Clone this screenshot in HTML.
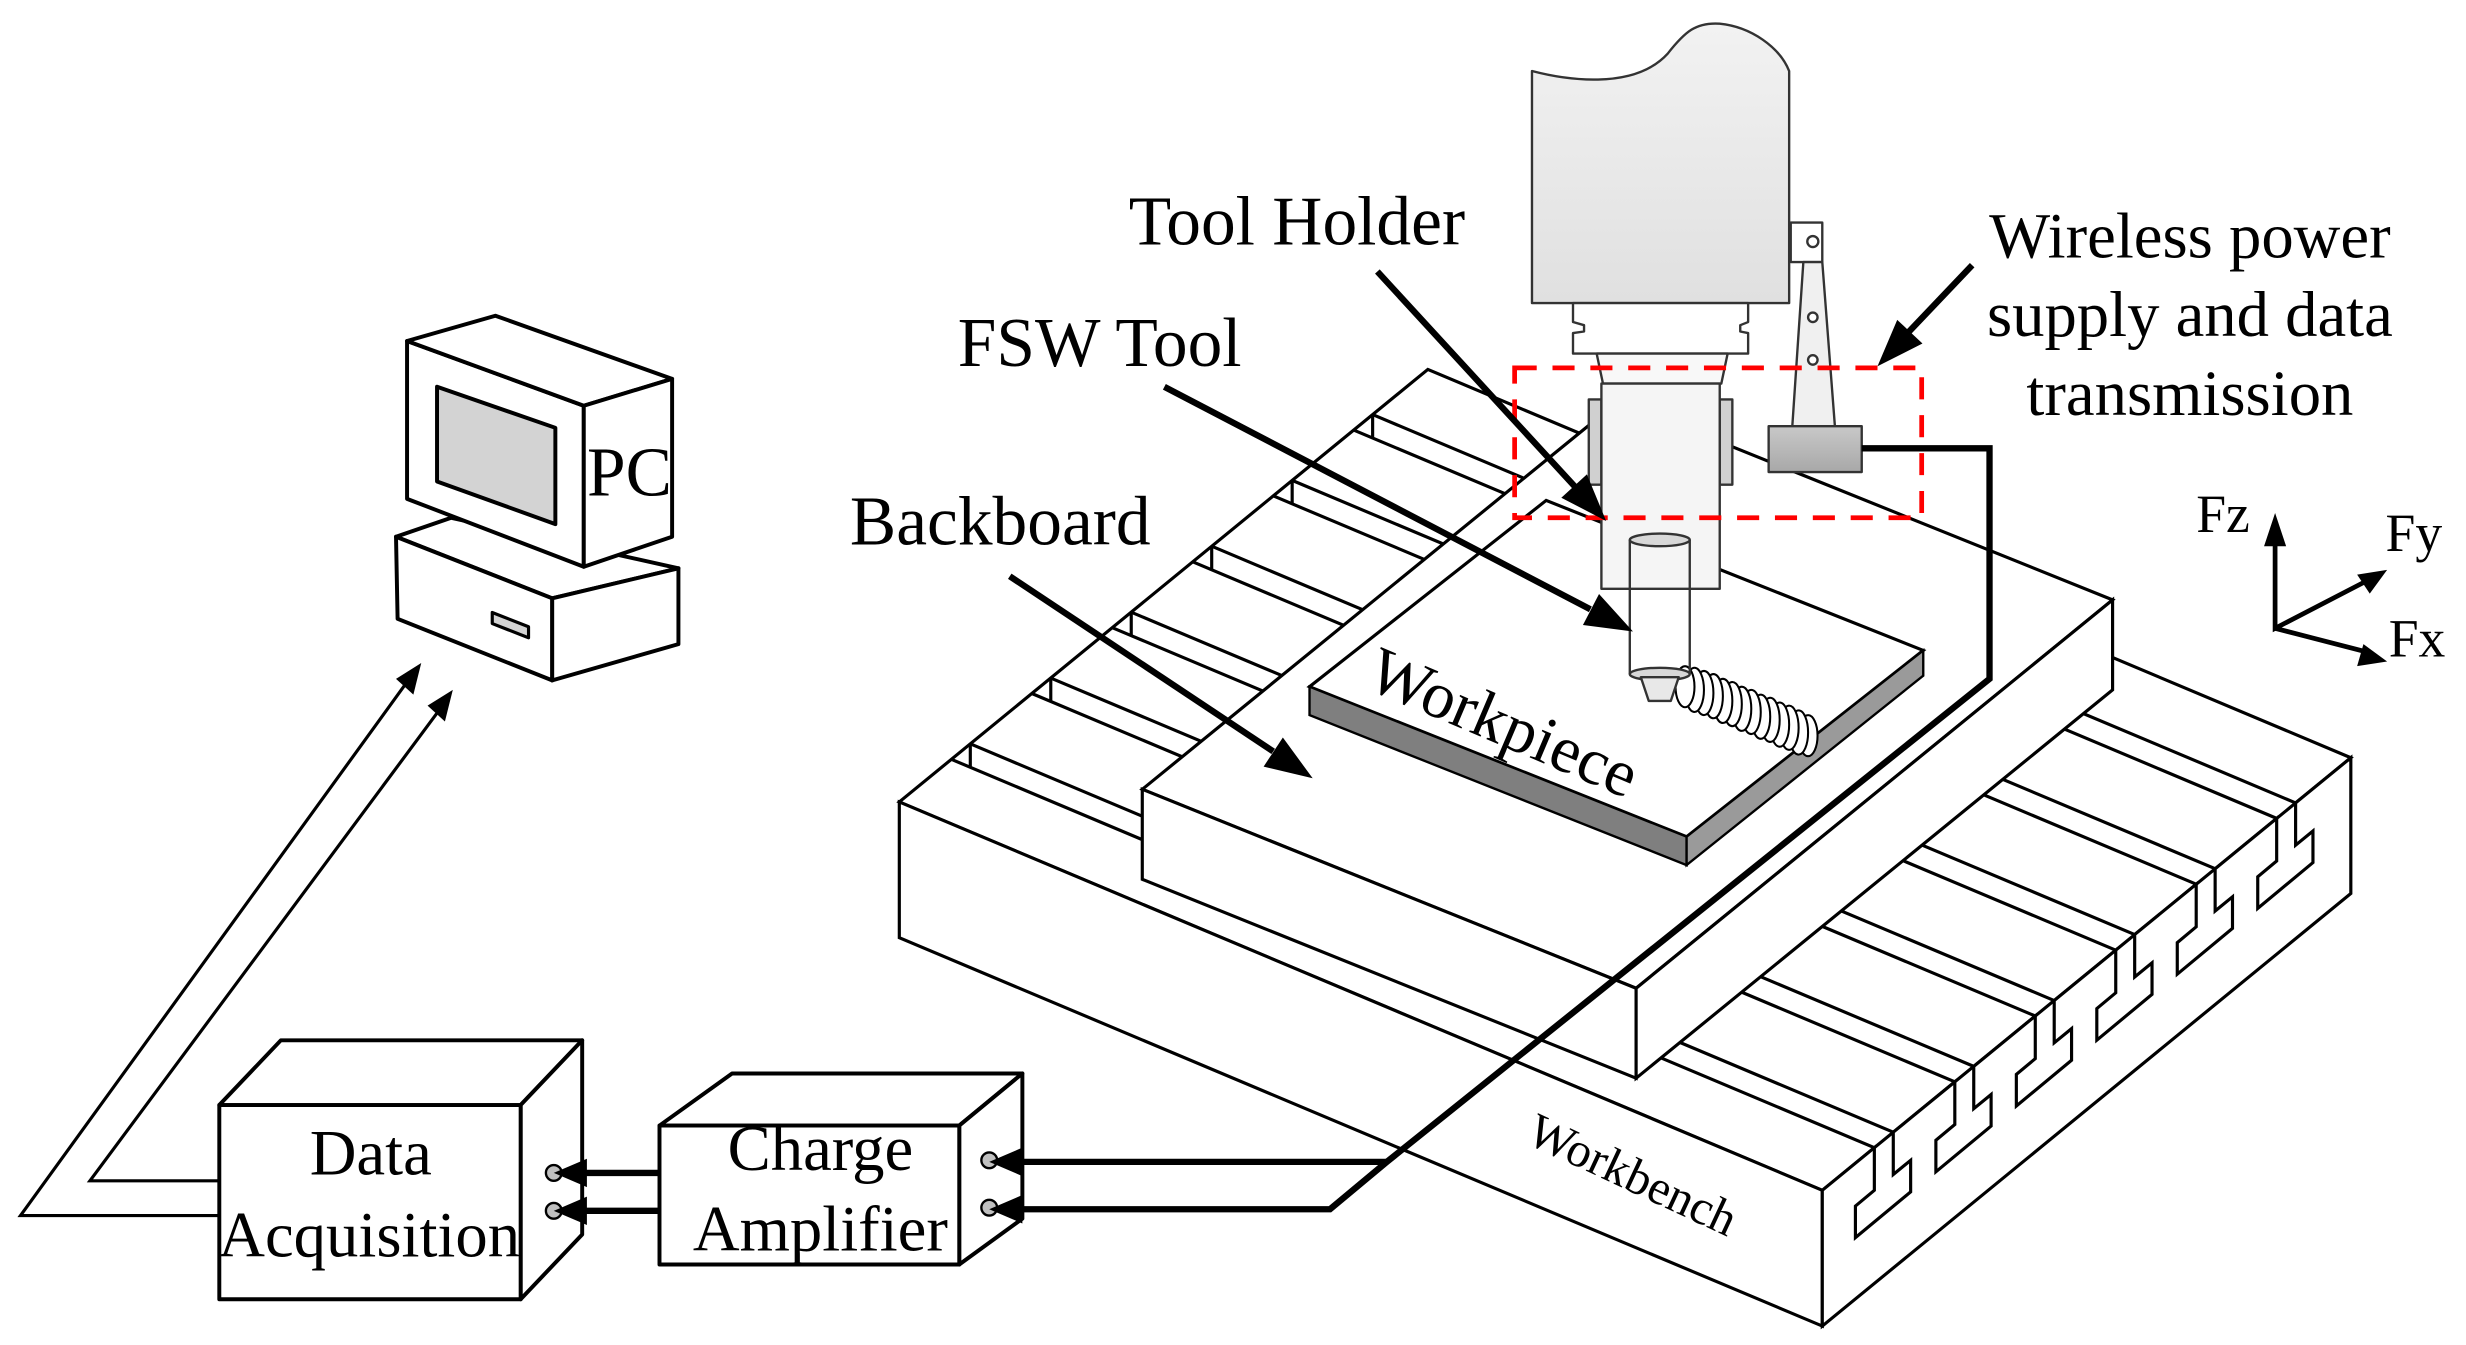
<!DOCTYPE html>
<html><head><meta charset="utf-8"><style>
html,body{margin:0;padding:0;background:#fff;}
svg{display:block;}
text{font-family:"Liberation Serif",serif;fill:#000;}
</style></head><body>
<svg width="2466" height="1345" viewBox="0 0 1563 852" preserveAspectRatio="none" xmlns="http://www.w3.org/2000/svg">
<defs>
<linearGradient id="gs" x1="0" y1="0" x2="0" y2="1"><stop offset="0" stop-color="#f2f2f2"/><stop offset="1" stop-color="#e0e0e0"/></linearGradient>
<linearGradient id="gb" x1="0" y1="0" x2="0" y2="1"><stop offset="0" stop-color="#c8c8c8"/><stop offset="1" stop-color="#a8a8a8"/></linearGradient>
</defs>
<g stroke="#000" stroke-width="2" stroke-linejoin="miter" fill="#fff">
<!-- workbench -->
<polygon points="570,508 1155,754 1490,480 905,234"/>
<polygon points="570,508 1155,754 1155,840 570,594"/>
<polygon points="1155,754 1188,727 1188,754 1176,764 1176,784 1211,755 1211,735 1200,744 1200,717.2 1239,685.3 1239,712.3 1227,722.3 1227,742.3 1262,713.3 1262,693.3 1251,702.3 1251,675.5 1290,643.6 1290,670.6 1278,680.6 1278,700.6 1313,671.6 1313,651.6 1302,660.6 1302,633.8 1341,601.9 1341,628.9 1329,638.9 1329,658.9 1364,629.9 1364,609.9 1353,618.9 1353,592 1392,560.1 1392,587.1 1380,597.1 1380,617.1 1415,588.1 1415,568.1 1404,577.1 1404,550.3 1443,518.4 1443,545.4 1431,555.4 1431,575.4 1466,546.4 1466,526.4 1455,535.4 1455,508.6 1490,480 1490,566 1155,840"/>
<!-- slot lines -->
<line x1="603" y1="481" x2="1188" y2="727"/><line x1="615" y1="471.2" x2="1200" y2="717.2"/>
<line x1="654" y1="439.3" x2="1239" y2="685.3"/><line x1="666" y1="429.5" x2="1251" y2="675.5"/>
<line x1="705" y1="397.6" x2="1290" y2="643.6"/><line x1="717" y1="387.8" x2="1302" y2="633.8"/>
<line x1="756" y1="355.9" x2="1341" y2="601.9"/><line x1="768" y1="346" x2="1353" y2="592"/>
<line x1="807" y1="314.1" x2="1392" y2="560.1"/><line x1="819" y1="304.3" x2="1404" y2="550.3"/>
<line x1="858" y1="272.4" x2="1443" y2="518.4"/><line x1="870" y1="262.6" x2="1455" y2="508.6"/>
<!-- left end drops -->
<line x1="615" y1="471.2" x2="615" y2="486"/><line x1="666" y1="429.5" x2="666" y2="444"/>
<line x1="717" y1="387.8" x2="717" y2="403"/><line x1="768" y1="346" x2="768" y2="361"/>
<line x1="819" y1="304.3" x2="819" y2="319"/><line x1="870" y1="262.6" x2="870" y2="277"/>
<!-- backboard -->
<polygon points="724,500 1037,626 1339,380 1026,254"/>
<polygon points="724,500 1037,626 1037,683 724,557"/>
<polygon points="1037,626 1339,380 1339,437 1037,683"/>
<!-- workpiece -->
<polygon points="830,435 1069,530 1219,412 980,317"/>
<polygon fill="#7f7f7f" stroke-width="1.5" points="830,435 1069,530 1069,548 830,453"/>
<polygon fill="#9a9a9a" stroke-width="1.5" points="1069,530 1219,412 1219,428 1069,548"/>
</g>
<!-- weld seam -->
<g fill="#fff" stroke="#000" stroke-width="1.3">
<ellipse cx="1146" cy="466" rx="6" ry="13"/><ellipse cx="1140" cy="464" rx="6" ry="14"/><ellipse cx="1134" cy="461" rx="6" ry="14"/><ellipse cx="1128" cy="459" rx="6" ry="14"/><ellipse cx="1122" cy="456" rx="6" ry="14"/><ellipse cx="1116" cy="454" rx="6" ry="14"/><ellipse cx="1110" cy="451" rx="6" ry="14"/><ellipse cx="1104" cy="449" rx="6" ry="14"/><ellipse cx="1098" cy="446" rx="6" ry="14"/><ellipse cx="1092" cy="444" rx="6" ry="14"/><ellipse cx="1086" cy="441" rx="6" ry="14"/><ellipse cx="1080" cy="439" rx="6" ry="14"/><ellipse cx="1074" cy="437" rx="6" ry="14"/><ellipse cx="1068" cy="435" rx="6" ry="13"/>
</g>
<!-- spindle -->
<g stroke="#333" stroke-width="1.5" stroke-linejoin="round">
<path fill="url(#gs)" d="M971,45 C990,50 1035,58 1057,34 C1068,20 1075,14 1090,15 C1110,17 1128,30 1134,45 L1134,192 L971,192 Z"/>
<polygon fill="#fff" points="997,192 1108,192 1108,204 1103,206 1103,210 1108,211 1108,224 997,224 997,211 1004,210 1004,206 997,204"/>
<polygon fill="#f8f8f8" points="1012,224 1095,224 1091,243 1016,243"/>
<rect x="1007" y="253" width="8" height="54" fill="#d0d0d0"/>
<rect x="1090" y="253" width="8" height="54" fill="#d0d0d0"/>
<rect x="1015" y="243" width="75" height="130" fill="#f5f5f5"/>
<rect x="1135" y="141" width="20" height="25" fill="#fff"/>
<circle cx="1149" cy="153" r="3.5" fill="#fff"/>
<polygon fill="#f0f0f0" points="1143,166 1155,166 1163,270 1136,270"/>
<circle cx="1149" cy="201" r="3" fill="#fff"/><circle cx="1149" cy="228" r="3" fill="#fff"/>
<rect x="1121" y="270" width="59" height="29" fill="url(#gb)"/>
<path fill="none" d="M1033,342 V427 M1071,342 V427"/>
<ellipse cx="1052" cy="342" rx="19" ry="4" fill="#d8d8d8"/>
<ellipse cx="1052" cy="427" rx="19" ry="4" fill="#d8d8d8"/>
<polygon fill="#e8e8e8" points="1040,429 1064,429 1059,444 1045,444"/>
</g>
<!-- red dashed -->
<rect x="960" y="233" width="258" height="95" fill="none" stroke="#f00" stroke-width="3" stroke-dasharray="14,10"/>
<!-- PC arrows -->
<g fill="none" stroke="#000" stroke-width="2">
<polyline points="138,770 13,770 258,432"/>
<polyline points="138,748 57,748 279,449"/>
</g>
<g fill="#000">
<polygon points="267,420 251,430 262,440"/>
<polygon points="287,437 271,447 282,457"/>
</g>
<!-- PC -->
<g stroke="#000" stroke-width="2.5" stroke-linejoin="round" fill="#fff">
<polygon points="251,340 286,328 430,360 350,379"/>
<polygon points="251,340 350,379 350,431 252,392"/>
<polygon points="350,379 430,360 430,408 350,431"/>
<polygon fill="#d3d3d3" stroke-width="2" points="312,388 335,397 335,404 312,395"/>
<polygon points="258,216 370,257 370,359 258,316"/>
<polygon points="258,216 314,200 426,240 370,257"/>
<polygon points="370,257 426,240 426,340 370,359"/>
<polygon fill="#d3d3d3" points="277,245 352,271 352,332 277,305"/>
</g>
<!-- DA & CA boxes -->
<g stroke="#000" stroke-width="2.5" stroke-linejoin="round" fill="#fff">
<polygon points="139,700 178,659 369,659 330,700"/>
<polygon points="330,700 369,659 369,782 330,823"/>
<rect x="139" y="700" width="191" height="123"/>
<polygon points="418,713 464,680 648,680 608,713"/>
<polygon points="608,713 648,680 648,772 608,801"/>
<rect x="418" y="713" width="190" height="88"/>
</g>
<g fill="#c0c0c0" stroke="#000" stroke-width="1.5">
<circle cx="351" cy="743" r="5"/><circle cx="351" cy="767" r="5"/>
<circle cx="627" cy="735" r="5"/><circle cx="627" cy="765" r="5"/>
</g>
<!-- wires and arrows -->
<g fill="none" stroke="#000" stroke-width="4" stroke-linejoin="miter">
<polyline points="1180,284 1261,284 1261,430 879,736 843,766 645,766"/>
<polyline points="879,736 645,736"/>
<line x1="418" y1="743" x2="368" y2="743"/><line x1="418" y1="767" x2="368" y2="767"/>
<line x1="1250" y1="168" x2="1210" y2="210"/>
<line x1="873" y1="172" x2="998" y2="308"/>
<line x1="738" y1="245" x2="1008" y2="386"/>
<line x1="640" y1="365" x2="807" y2="476"/>
<polyline stroke-width="3" points="1442,336 1442,398 1500,368"/>
<line stroke-width="3" x1="1442" y1="398" x2="1500" y2="413"/>
</g>
<g fill="#000">
<polygon points="627,736 648,727 648,745"/><polygon points="627,766 648,757 648,775"/>
<polygon points="351,743 372,734 372,752"/><polygon points="351,767 372,758 372,776"/>
<polygon points="1190,232 1218.5,217.6 1202.5,202.6"/>
<polygon points="1018,330 1005.8,300.5 989.6,315.3"/>
<polygon points="1035,400 1013.5,376.3 1003.3,395.9"/>
<polygon points="832,493 813.1,467.2 800.9,485.6"/>
<polygon points="1442,325 1435,346 1449,346"/>
<polygon points="1513,361 1494,364 1502,376"/>
<polygon points="1513,419 1498,408 1494,422"/>
</g>
<!-- text -->
<text x="399" y="314" font-size="44" text-anchor="middle">PC</text>
<text x="235" y="744" font-size="41" text-anchor="middle">Data</text>
<text x="234" y="796" font-size="41" text-anchor="middle">Acquisition</text>
<text x="520" y="741" font-size="41" text-anchor="middle">Charge</text>
<text x="520" y="792" font-size="41" text-anchor="middle">Amplifier</text>
<text x="822" y="155" font-size="44" text-anchor="middle">Tool Holder</text>
<text x="697" y="232" font-size="44" text-anchor="middle">FSW Tool</text>
<text x="634" y="345" font-size="44" text-anchor="middle">Backboard</text>
<text x="1388" y="163" font-size="41" text-anchor="middle">Wireless power</text>
<text x="1388" y="213" font-size="41" text-anchor="middle">supply and data</text>
<text x="1388" y="263" font-size="41" text-anchor="middle">transmission</text>
<text x="1392" y="337" font-size="34">Fz</text>
<text x="1512" y="349" font-size="34">Fy</text>
<text x="1514" y="416" font-size="34">Fx</text>
<text x="0" y="0" font-size="42" text-anchor="middle" dominant-baseline="central" transform="translate(953,458) rotate(23)">Workpiece</text>
<text x="0" y="0" font-size="31" text-anchor="middle" dominant-baseline="central" transform="translate(1035,744) rotate(25)">Workbench</text>
</svg>
</body></html>
